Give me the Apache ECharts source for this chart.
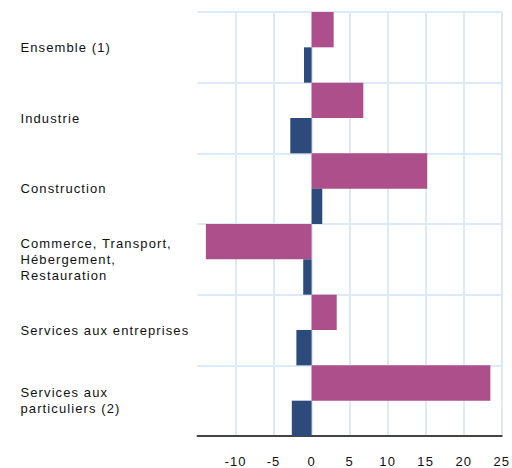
<!DOCTYPE html>
<html><head><meta charset="utf-8">
<script src="https://cdn.jsdelivr.net/npm/echarts@6/dist/echarts.min.js"></script>
<style>html,body{margin:0;padding:0;background:#fff}#c{width:512px;height:468px}#c text{letter-spacing:1.1px}</style>
</head><body><div id="c"></div>
<script>
const categories = ["Ensemble (1)", "Industrie", "Construction", "Commerce, Transport,\nHébergement,\nRestauration", "Services aux entreprises", "Services aux\nparticuliers (2)"];
const seriesPink = [2.9, 6.8, 15.2, -13.9, 3.3, 23.5];
const seriesBlue = [-1.0, -2.8, 1.4, -1.1, -2.0, -2.6];
const xTicks = [-10, -5, 0, 5, 10, 15, 20, 25];

const FONT = 'Liberation Sans, Arial, sans-serif';
const chart = echarts.init(document.getElementById('c'), null, {renderer: 'svg'});
chart.setOption({
  animation: false,
  grid: {left: 197.5, right: 5.7, top: 12, bottom: 31, containLabel: false},
  xAxis: {
    type: 'value', min: -15, max: 25, interval: 5,
    axisLine: {show: true, onZero: false, lineStyle: {color: '#444', width: 2}},
    axisTick: {show: false},
    axisLabel: {
      showMinLabel: false, color: '#111', fontSize: 13, margin: 19,
      fontFamily: FONT,
      formatter: v => xTicks.includes(v) ? String(v) : ''
    },
    splitLine: {show: true, showMinLine: false, lineStyle: {color: '#ddeafa', width: 2}}
  },
  yAxis: {
    type: 'category', data: categories, inverse: true,
    axisLine: {show: false}, axisTick: {show: false},
    axisLabel: {align: 'left', margin: 177, color: '#111', fontSize: 13, lineHeight: 16,
      fontFamily: FONT},
    splitLine: {show: true, lineStyle: {color: '#ddeafa', width: 2}}
  },
  series: [
    {type: 'bar', data: seriesPink, barGap: '0%', barCategoryGap: '0%',
      itemStyle: {color: '#ac4f8a'}},
    {type: 'bar', data: seriesBlue, barGap: '0%', barCategoryGap: '0%',
      itemStyle: {color: '#2c4a7a'}}
  ]
});
</script></body></html>
